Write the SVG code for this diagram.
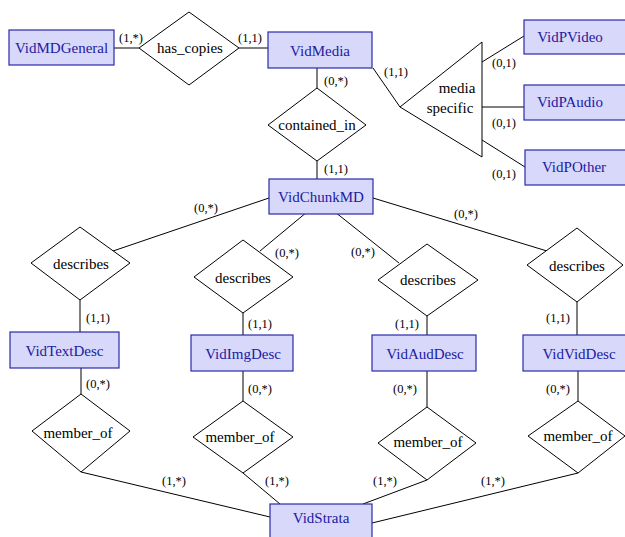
<svg xmlns="http://www.w3.org/2000/svg" width="625" height="537" viewBox="0 0 625 537" font-family="'Liberation Serif', 'Times New Roman', serif">
<style>
.ent rect{fill:#d8d8fb;stroke:#2a2aa8;stroke-width:1.2}
.ent text{fill:#2020a0;font-size:15px;text-anchor:middle}
.rel polygon{fill:#fff;stroke:#000;stroke-width:1}
.rel text{fill:#000;font-size:15px;text-anchor:middle}
.conn line{stroke:#000;stroke-width:1;fill:none}
.lbl{fill:#000;font-size:12.5px;text-anchor:middle}
</style>
<rect width="625" height="537" fill="#fff"/>
<g id="connectors" class="conn">
<line x1="114" y1="48" x2="139" y2="48"/>
<line x1="239" y1="48" x2="268" y2="48"/>
<line x1="317" y1="68" x2="317" y2="88"/>
<line x1="317" y1="161" x2="317" y2="179"/>
<line x1="373" y1="68" x2="400" y2="107"/>
<line x1="482" y1="62" x2="524" y2="36"/>
<line x1="482" y1="107" x2="524" y2="107"/>
<line x1="482" y1="140" x2="525" y2="167"/>
<line x1="269" y1="198" x2="113" y2="251"/>
<line x1="307" y1="212" x2="260" y2="251"/>
<line x1="335" y1="212" x2="399" y2="263"/>
<line x1="373" y1="198" x2="547" y2="251"/>
<line x1="80" y1="300" x2="80" y2="332"/>
<line x1="243" y1="313" x2="243" y2="335"/>
<line x1="427" y1="316" x2="427" y2="335"/>
<line x1="577" y1="302" x2="577" y2="335"/>
<line x1="81" y1="368" x2="81" y2="394"/>
<line x1="243" y1="371" x2="243" y2="401"/>
<line x1="427" y1="371" x2="427" y2="407"/>
<line x1="578" y1="371" x2="578" y2="401"/>
<line x1="81" y1="472" x2="270" y2="517"/>
<line x1="243" y1="473" x2="280" y2="504"/>
<line x1="427" y1="480" x2="363" y2="504"/>
<line x1="578" y1="473" x2="372" y2="523"/>
</g>
<g id="labels">
<text class="lbl" x="131" y="42">(1,*)</text>
<text class="lbl" x="250" y="42">(1,1)</text>
<text class="lbl" x="336" y="85">(0,*)</text>
<text class="lbl" x="336" y="173">(1,1)</text>
<text class="lbl" x="396" y="76">(1,1)</text>
<text class="lbl" x="504" y="67">(0,1)</text>
<text class="lbl" x="504" y="127">(0,1)</text>
<text class="lbl" x="504" y="178">(0,1)</text>
<text class="lbl" x="206" y="212">(0,*)</text>
<text class="lbl" x="287" y="257">(0,*)</text>
<text class="lbl" x="363" y="256">(0,*)</text>
<text class="lbl" x="466" y="218">(0,*)</text>
<text class="lbl" x="98" y="322">(1,1)</text>
<text class="lbl" x="260" y="328">(1,1)</text>
<text class="lbl" x="407" y="328">(1,1)</text>
<text class="lbl" x="558" y="322">(1,1)</text>
<text class="lbl" x="98" y="388">(0,*)</text>
<text class="lbl" x="260" y="393">(0,*)</text>
<text class="lbl" x="405" y="393">(0,*)</text>
<text class="lbl" x="558" y="393">(0,*)</text>
<text class="lbl" x="174" y="485">(1,*)</text>
<text class="lbl" x="277" y="485">(1,*)</text>
<text class="lbl" x="385" y="485">(1,*)</text>
<text class="lbl" x="493" y="485">(1,*)</text>
</g>
<g id="VidMDGeneral" class="ent"><rect x="9" y="30" width="105" height="35"/><text x="61.5" y="53">VidMDGeneral</text></g>
<g id="has_copies" class="rel"><polygon points="189,12 239,48 189,85 139,48"/><text x="190" y="53">has_copies</text></g>
<g id="VidMedia" class="ent"><rect x="268" y="32" width="104" height="36"/><text x="320" y="56">VidMedia</text></g>
<g id="contained_in" class="rel"><polygon points="317,88 366,125 317,161 268,125"/><text x="317" y="130">contained_in</text></g>
<g id="media_specific" class="rel"><polygon points="400,107 482,42 482,157"/><text x="457" y="93">media</text><text x="450" y="113">specific</text></g>
<g id="VidPVideo" class="ent"><rect x="524" y="20" width="105" height="34"/><text x="570" y="42">VidPVideo</text></g>
<g id="VidPAudio" class="ent"><rect x="524" y="85" width="105" height="35"/><text x="570" y="107">VidPAudio</text></g>
<g id="VidPOther" class="ent"><rect x="525" y="150" width="104" height="35"/><text x="574" y="172">VidPOther</text></g>
<g id="VidChunkMD" class="ent"><rect x="269" y="179" width="104" height="35"/><text x="321" y="202">VidChunkMD</text></g>
<g id="describes1" class="rel"><polygon points="80,227 130,263 80,300 31,263"/><text x="81" y="269">describes</text></g>
<g id="describes2" class="rel"><polygon points="243,240 293,277 243,313 194,277"/><text x="243" y="283">describes</text></g>
<g id="describes3" class="rel"><polygon points="427,244 478,280 427,316 378,280"/><text x="428" y="285">describes</text></g>
<g id="describes4" class="rel"><polygon points="577,228 623,265 577,302 527,265"/><text x="577" y="271">describes</text></g>
<g id="VidTextDesc" class="ent"><rect x="10" y="332" width="109" height="36"/><text x="64.5" y="356">VidTextDesc</text></g>
<g id="VidImgDesc" class="ent"><rect x="191" y="335" width="102" height="36"/><text x="243" y="359">VidImgDesc</text></g>
<g id="VidAudDesc" class="ent"><rect x="372" y="335" width="104" height="36"/><text x="425" y="359">VidAudDesc</text></g>
<g id="VidVidDesc" class="ent"><rect x="523" y="335" width="106" height="36"/><text x="579" y="359">VidVidDesc</text></g>
<g id="member_of1" class="rel"><polygon points="81,394 130,431 81,472 32,431"/><text x="78" y="438">member_of</text></g>
<g id="member_of2" class="rel"><polygon points="243,401 293,437 243,473 193,437"/><text x="240" y="442">member_of</text></g>
<g id="member_of3" class="rel"><polygon points="427,407 476,443 427,480 378,443"/><text x="428" y="447">member_of</text></g>
<g id="member_of4" class="rel"><polygon points="578,401 625,436 578,473 528,436"/><text x="578" y="441">member_of</text></g>
<g id="VidStrata" class="ent"><rect x="270" y="504" width="102" height="40"/><text x="321" y="523">VidStrata</text></g>
</svg>
